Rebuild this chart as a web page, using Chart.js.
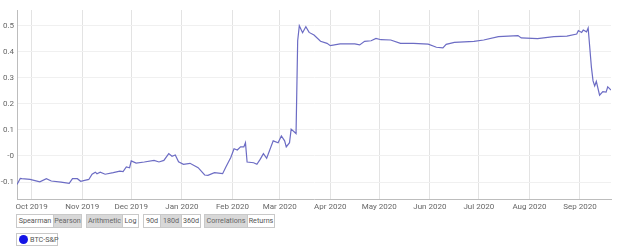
<!DOCTYPE html>
<html>
<head>
<meta charset="utf-8">
<script src="https://cdn.jsdelivr.net/npm/chart.js@4"></script>
<style>
  body { margin: 0; background: #fff; font-family: Roboto, "Noto Sans", sans-serif; }
  #wrap { position: absolute; left: 0; top: 0; width: 640px; height: 212px; }
  .grp { position: absolute; top: 214px; height: 12px; display: flex; border: 1px solid #c9c9c9; }
  .btn { height: 12px; line-height: 12px; font-size: 7.2px; color: #555; text-align: center; box-sizing: border-box; white-space: nowrap; overflow: hidden; }
  .btn + .btn { border-left: 1px solid #c9c9c9; }
  .on { background: #d8d8d8; color: #666; }
  #legend { position: absolute; left: 16px; top: 233px; width: 40px; height: 11px; border: 1px solid #c9c9c9; font-size: 7.2px; color: #555; line-height: 11px; white-space: nowrap; }
  #legend .dot { position: absolute; left: 2px; top: 1px; width: 9px; height: 9px; border-radius: 50%; background: #1414e6; }
  #legend span { position: absolute; left: 13px; }
</style>
</head>
<body>
<div id="wrap"><canvas id="chart"></canvas></div>

<div class="grp" style="left:16px">
  <div class="btn" style="width:36px">Spearman</div><div class="btn on" style="width:28px">Pearson</div>
</div>
<div class="grp" style="left:86px">
  <div class="btn on" style="width:35px">Arithmetic</div><div class="btn" style="width:16px">Log</div>
</div>
<div class="grp" style="left:143px">
  <div class="btn" style="width:16px">90d</div><div class="btn on" style="width:21px">180d</div><div class="btn" style="width:19px">360d</div>
</div>
<div class="grp" style="left:204px">
  <div class="btn on" style="width:42px">Correlations</div><div class="btn" style="width:27px">Returns</div>
</div>
<div id="legend"><div class="dot"></div><span>BTC-S&amp;P</span></div>

<script>
// days counted from 1 Oct 2019
const days = [-9, -7, -6, -1, 5, 9, 12, 18, 23, 25, 28, 30, 35, 37, 39, 40, 42, 45, 50, 54, 56, 58, 60, 61, 64, 69, 75, 78, 81, 84, 86, 88, 90, 93, 97, 102, 106, 108, 112, 117, 119, 122, 124, 126, 128, 130, 131, 132, 136, 138, 140, 142, 144, 148, 151, 153, 155, 156, 158, 159, 162, 163, 164, 166, 168, 170, 173, 177, 181, 183, 189, 198, 201, 204, 208, 211, 214, 220, 226, 234, 243, 248, 252, 254, 259, 271, 277, 286, 298, 300, 310, 320, 328, 334, 335, 337, 338, 340, 341, 343, 344, 345, 346, 348, 350, 352, 353, 355]
const btcSpx = [-0.109, -0.086, -0.087, -0.09, -0.099, -0.087, -0.096, -0.1, -0.105, -0.087, -0.087, -0.097, -0.09, -0.07, -0.062, -0.068, -0.062, -0.07, -0.064, -0.058, -0.06, -0.042, -0.045, -0.019, -0.027, -0.023, -0.017, -0.023, -0.017, 0.009, -0.001, 0.004, -0.022, -0.032, -0.028, -0.045, -0.073, -0.074, -0.064, -0.068, -0.042, -0.006, 0.028, 0.023, 0.035, 0.035, 0.051, -0.023, -0.026, -0.032, -0.013, 0.009, -0.009, 0.058, 0.051, 0.077, 0.058, 0.035, 0.051, 0.103, 0.086, 0.442, 0.5, 0.473, 0.496, 0.474, 0.464, 0.44, 0.432, 0.423, 0.43, 0.43, 0.426, 0.44, 0.442, 0.451, 0.446, 0.445, 0.432, 0.432, 0.429, 0.417, 0.415, 0.428, 0.436, 0.44, 0.445, 0.458, 0.462, 0.453, 0.45, 0.458, 0.46, 0.468, 0.481, 0.474, 0.483, 0.476, 0.491, 0.34, 0.288, 0.269, 0.286, 0.233, 0.247, 0.245, 0.265, 0.253]

const monthDays = [0, 31, 61, 92, 123, 152, 183, 213, 244, 274, 305, 336]
const monthLabels = ["Oct 2019", "Nov 2019", "Dec 2019", "Jan 2020", "Feb 2020", "Mar 2020", "Apr 2020", "May 2020", "Jun 2020", "Jul 2020", "Aug 2020", "Sep 2020"]
const yTicks = [-0.1, 0, 0.1, 0.2, 0.3, 0.4, 0.5]
const yLabels = ["-0.1", "-0", "0.1", "0.2", "0.3", "0.4", "0.5"]

const points = days.map((d, i) => ({ x: d, y: btcSpx[i] }))

const chart = new Chart(document.getElementById("chart"), {
  type: "line",
  data: {
    datasets: [{
      label: "BTC-S&P",
      data: points,
      borderColor: "#6c6cc4",
      borderWidth: 1.2,
      pointRadius: 0,
      tension: 0,
      fill: false
    }]
  },
  options: {
    responsive: true,
    maintainAspectRatio: false,
    animation: false,
    layout: { padding: { top: 10, right: 29, left: 0, bottom: 0 } },
    plugins: { legend: { display: false }, tooltip: { enabled: false } },
    scales: {
      x: {
        type: "linear",
        min: -9,
        max: 355,
        afterBuildTicks: (axis) => { axis.ticks = monthDays.map(v => ({ value: v })) },
        afterFit: (axis) => { axis.height = 13 },
        ticks: {
          autoSkip: false,
          maxRotation: 0,
          padding: 3,
          color: "#666",
          font: { family: "Roboto", size: 8 },
          callback: (v) => monthLabels[monthDays.indexOf(v)]
        },
        grid: { color: "#e3e3e3", drawTicks: false },
        border: { color: "#bdbdbd" }
      },
      y: {
        min: -0.165,
        max: 0.56,
        afterBuildTicks: (axis) => { axis.ticks = yTicks.map(v => ({ value: v })) },
        afterFit: (axis) => { axis.width = 17 },
        ticks: {
          padding: 3,
          color: "#666",
          font: { family: "Roboto", size: 8 },
          callback: (v) => yLabels[yTicks.indexOf(v)]
        },
        grid: { color: "#f0f0f0", drawTicks: false },
        border: { color: "#bdbdbd" }
      }
    }
  }
})
</script>
</body>
</html>
